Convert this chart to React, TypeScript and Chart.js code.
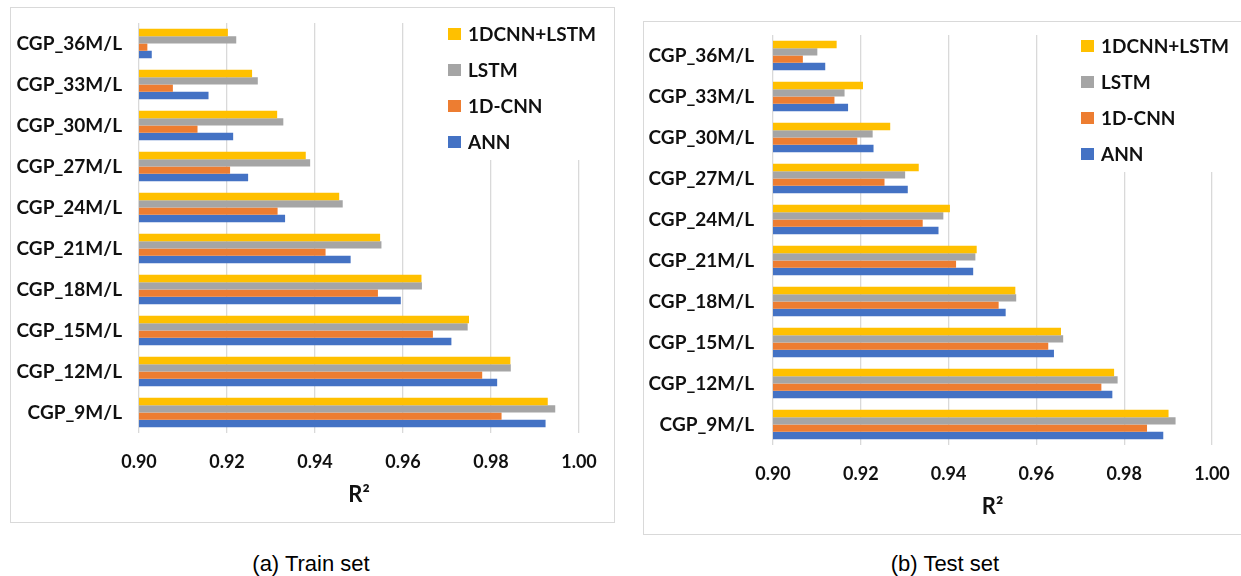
import React, { useEffect, useRef } from 'react';
import { Chart, registerables } from 'chart.js';

Chart.register(...registerables);

// ---- Data ----
const categories = [
  'CGP_36M/L', 'CGP_33M/L', 'CGP_30M/L', 'CGP_27M/L', 'CGP_24M/L',
  'CGP_21M/L', 'CGP_18M/L', 'CGP_15M/L', 'CGP_12M/L', 'CGP_9M/L',
];
const seriesNames = ['1DCNN+LSTM', 'LSTM', '1D-CNN', 'ANN'];
const seriesColors = ['#FFC000', '#A5A5A5', '#ED7D31', '#4472C4'];

const xMin = 0.9;
const xMax = 1.0;
const xStep = 0.02;
const xTitle = 'R\u00B2';

// Train set
const trainHybrid = [0.9202, 0.9257, 0.9314, 0.9379, 0.9455, 0.9548, 0.9642, 0.9750, 0.9844, 0.9929];
const trainLSTM = [0.9221, 0.9270, 0.9328, 0.9389, 0.9463, 0.9551, 0.9643, 0.9747, 0.9845, 0.9946];
const trainCNN = [0.9019, 0.9077, 0.9133, 0.9207, 0.9315, 0.9424, 0.9543, 0.9668, 0.9780, 0.9824];
const trainANN = [0.9029, 0.9158, 0.9214, 0.9248, 0.9332, 0.9481, 0.9595, 0.9710, 0.9814, 0.9924];

// Test set
const testHybrid = [0.9145, 0.9205, 0.9267, 0.9332, 0.9403, 0.9464, 0.9552, 0.9656, 0.9777, 0.9901];
const testLSTM = [0.9101, 0.9163, 0.9227, 0.9301, 0.9388, 0.9461, 0.9554, 0.9661, 0.9785, 0.9917];
const testCNN = [0.9068, 0.9140, 0.9192, 0.9254, 0.9341, 0.9417, 0.9514, 0.9627, 0.9748, 0.9852];
const testANN = [0.9119, 0.9171, 0.9229, 0.9307, 0.9377, 0.9456, 0.9530, 0.9640, 0.9773, 0.9889];

const captionTrain = '(a) Train set';
const captionTest = '(b) Test set';

const FONT = 'Lato, "Open Sans", sans-serif';
const TEXT_COLOR = '#111111';
const GRID_COLOR = '#D9D9D9';

const overlayLegend = {
  id: 'overlayLegend',
  afterDatasetsDraw(chart: any) {
    const { ctx, chartArea } = chart;
    const x0 = chartArea.right - 131;
    const y0 = chartArea.top + 11;
    ctx.save();
    ctx.fillStyle = '#FFFFFF';
    ctx.fillRect(x0 - 12, chartArea.top - 1, chartArea.right + 40 - (x0 - 12), 138);
    ctx.font = `bold 19px ${FONT}`;
    ctx.textBaseline = 'middle';
    ctx.textAlign = 'left';
    chart.data.datasets.forEach((ds: any, i: number) => {
      const y = y0 + i * 36;
      ctx.fillStyle = ds.backgroundColor;
      ctx.fillRect(x0, y - 6, 13, 12);
      ctx.fillStyle = TEXT_COLOR;
      ctx.fillText(ds.label, x0 + 20, y + 1);
    });
    ctx.restore();
  },
};

interface PanelProps {
  values: number[][];
  left: number;
  top: number;
  width: number;
  height: number;
  yAxisWidth: number;
  padTop: number;
  padRight: number;
  xAxisHeight: number;
  labelGap: number;
  showRightBorder: boolean;
}

function Panel(props: PanelProps) {
  const ref = useRef<HTMLCanvasElement>(null);
  const cw = props.width - 2;
  const ch = props.height - 2;
  useEffect(() => {
    if (!ref.current) return;
    const chart = new Chart(ref.current, {
      type: 'bar',
      data: {
        labels: categories,
        datasets: seriesNames.map((name, i) => ({
          label: name,
          data: props.values[i],
          backgroundColor: seriesColors[i],
          borderWidth: 0,
          categoryPercentage: 0.714,
          barPercentage: 1.0,
        })),
      },
      options: {
        indexAxis: 'y',
        responsive: false,
        animation: false,
        layout: { padding: { top: props.padTop, right: props.padRight, left: 0, bottom: 0 } },
        plugins: {
          legend: { display: false },
          tooltip: { enabled: false },
        },
        scales: {
          x: {
            type: 'linear',
            min: xMin,
            max: xMax,
            ticks: {
              stepSize: xStep,
              padding: 0,
              color: TEXT_COLOR,
              font: { family: FONT, size: 18, weight: 'bold' },
              callback: (v: any) => Number(v).toFixed(2),
            },
            grid: {
              color: GRID_COLOR,
              lineWidth: 1.3,
              drawTicks: true,
              tickLength: 18,
              tickColor: 'rgba(0,0,0,0)',
            },
            border: { display: false },
            title: {
              display: true,
              text: xTitle,
              color: TEXT_COLOR,
              font: { family: FONT, size: 22, weight: 'bold' },
              padding: { top: 0, bottom: 14 },
            },
            afterFit: (scale: any) => { scale.height = props.xAxisHeight; },
          },
          y: {
            type: 'category',
            ticks: {
              padding: 0,
              color: TEXT_COLOR,
              font: { family: FONT, size: 19, weight: 'bold' },
            },
            grid: { display: false, drawTicks: true, tickLength: props.labelGap },
            border: { display: false },
            afterFit: (scale: any) => { scale.width = props.yAxisWidth; },
          },
        },
      },
      plugins: [overlayLegend],
    } as any);
    return () => chart.destroy();
  }, []);
  return (
    <div
      style={{
        position: 'absolute',
        left: props.left,
        top: props.top,
        width: props.width,
        height: props.height,
        boxSizing: 'border-box',
        border: `1px solid ${GRID_COLOR}`,
        borderRight: props.showRightBorder ? `1px solid ${GRID_COLOR}` : 'none',
        background: '#FFFFFF',
      }}
    >
      <canvas ref={ref} width={cw} height={ch} style={{ display: 'block', width: cw, height: ch }} />
    </div>
  );
}

const captionStyle: React.CSSProperties = {
  position: 'absolute',
  width: 240,
  top: 551,
  textAlign: 'center',
  fontFamily: '"Liberation Sans", Arial, sans-serif',
  fontSize: 22,
  lineHeight: '25px',
  color: '#000',
};

export default function App() {
  return (
    <div
      style={{
        position: 'fixed',
        left: 0,
        top: 0,
        width: 1241,
        height: 576,
        overflow: 'hidden',
        background: '#FFFFFF',
      }}
    >
      <Panel
        values={[trainHybrid, trainLSTM, trainCNN, trainANN]}
        left={10}
        top={7}
        width={605}
        height={516}
        yAxisWidth={128}
        padTop={15}
        padRight={35}
        xAxisHeight={89}
        labelGap={17}
        showRightBorder={true}
      />
      <Panel
        values={[testHybrid, testLSTM, testCNN, testANN]}
        left={643}
        top={21}
        width={600}
        height={514}
        yAxisWidth={129}
        padTop={13}
        padRight={30}
        xAxisHeight={89}
        labelGap={19}
        showRightBorder={false}
      />
      <div style={{ ...captionStyle, left: 311 - 120 }}>{captionTrain}</div>
      <div style={{ ...captionStyle, left: 945 - 120 }}>{captionTest}</div>
    </div>
  );
}
